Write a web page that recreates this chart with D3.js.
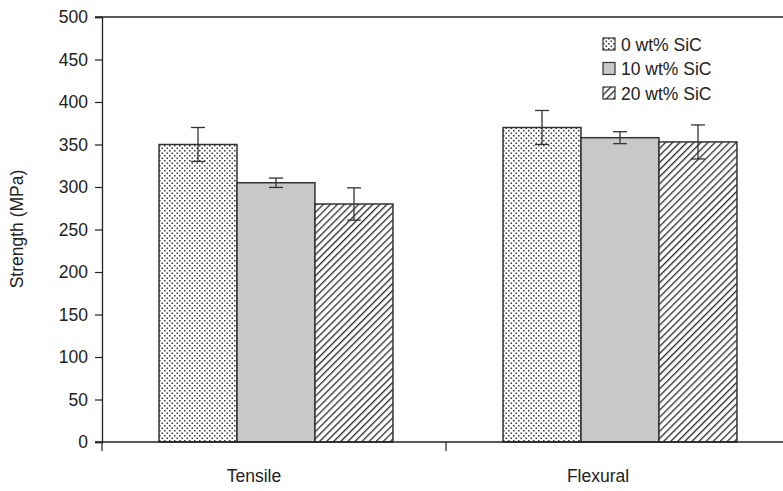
<!DOCTYPE html>
<html>
<head>
<meta charset="utf-8">
<script src="https://cdn.jsdelivr.net/npm/d3@7"></script>
<style>
  body { margin: 0; background: #fff; }
  text { font-family: "Liberation Sans", Arial, sans-serif; fill: #222; }
</style>
</head>
<body>
<div id="chart"></div>
<script>
// data
const categories = ["Tensile", "Flexural"];
const seriesNames = ["0 wt% SiC", "10 wt% SiC", "20 wt% SiC"];
const means  = [[350, 305, 280], [370, 358, 353]];
const errors = [[20, 5.5, 19], [20, 7, 20]];
const yTicks = [0, 50, 100, 150, 200, 250, 300, 350, 400, 450, 500];

const width = 783, height = 491;
const margin = {top: 17, right: -7, bottom: 49, left: 102};
const fontSize = "17.5px";

const svg = d3.select("#chart")
  .append("svg")
  .attr("width", width)
  .attr("height", height);

// patterns
const defs = svg.append("defs");
const dots = defs.append("pattern")
  .attr("id", "dots")
  .attr("patternUnits", "userSpaceOnUse")
  .attr("width", 5).attr("height", 5);
dots.append("rect").attr("width", 5).attr("height", 5).attr("fill", "#fff");
dots.append("rect").attr("x", 0).attr("y", 0).attr("width", 1.5).attr("height", 1.5).attr("fill", "#333");
dots.append("rect").attr("x", 2.5).attr("y", 2.5).attr("width", 1.5).attr("height", 1.5).attr("fill", "#333");

const hatch = defs.append("pattern")
  .attr("id", "hatch")
  .attr("patternUnits", "userSpaceOnUse")
  .attr("width", 5).attr("height", 5)
  .attr("patternTransform", "rotate(45)");
hatch.append("rect").attr("width", 5).attr("height", 5).attr("fill", "#fff");
hatch.append("line").attr("x1", 0).attr("y1", 0).attr("x2", 0).attr("y2", 5)
  .attr("stroke", "#2a2a2a").attr("stroke-width", 2.6);

const fills = ["url(#dots)", "#c8c8ca", "url(#hatch)"];

// scales
const x0 = d3.scaleBand()
  .domain(categories)
  .range([margin.left, width - margin.right])
  .paddingInner(0.32)
  .paddingOuter(0.16);

const x1 = d3.scaleBand()
  .domain(seriesNames)
  .range([0, x0.bandwidth()]);

const y = d3.scaleLinear()
  .domain([0, 500])
  .range([height - margin.bottom, margin.top]);

// top border
svg.append("line")
  .attr("x1", margin.left - 7).attr("x2", width)
  .attr("y1", y(500)).attr("y2", y(500))
  .attr("stroke", "#222").attr("stroke-width", 1.3);

// bars
const groups = svg.selectAll("g.cat")
  .data(categories)
  .enter().append("g")
  .attr("class", "cat")
  .attr("transform", (d) => `translate(${x0(d) + 2},0)`);

groups.each(function(cat, ci) {
  const g = d3.select(this);
  seriesNames.forEach((s, si) => {
    const v = means[ci][si], e = errors[ci][si];
    const bx = x1(s);
    g.append("rect")
      .attr("x", bx)
      .attr("y", y(v))
      .attr("width", x1.bandwidth())
      .attr("height", y(0) - y(v))
      .attr("fill", fills[si])
      .attr("stroke", "#333")
      .attr("stroke-width", 1.5);
    const cx = bx + x1.bandwidth() / 2;
    g.append("line")
      .attr("x1", cx).attr("x2", cx)
      .attr("y1", y(v + e)).attr("y2", y(v - e))
      .attr("stroke", "#333").attr("stroke-width", 1.3);
    [v + e, v - e].forEach((t) => {
      g.append("line")
        .attr("x1", cx - 7).attr("x2", cx + 7)
        .attr("y1", y(t)).attr("y2", y(t))
        .attr("stroke", "#333").attr("stroke-width", 1.3);
    });
  });
});

// y axis
const yAxis = svg.append("g")
  .attr("transform", `translate(${margin.left},0)`)
  .call(d3.axisLeft(y).tickValues(yTicks).tickSize(7).tickPadding(7));
yAxis.select(".domain").attr("stroke", "#222").attr("stroke-width", 1.3);
yAxis.selectAll(".tick line").attr("stroke", "#222").attr("stroke-width", 1.2);
yAxis.selectAll(".tick text").attr("font-size", fontSize).attr("fill", "#222")
  .attr("font-family", "Liberation Sans, Arial, sans-serif");

// x axis
svg.append("line")
  .attr("x1", margin.left - 7).attr("x2", width)
  .attr("y1", y(0)).attr("y2", y(0))
  .attr("stroke", "#222").attr("stroke-width", 1.3);
[margin.left, margin.left + (width - margin.right - margin.left) / 2].forEach((tx) => {
  svg.append("line")
    .attr("x1", tx).attr("x2", tx)
    .attr("y1", y(0)).attr("y2", y(0) + 9)
    .attr("stroke", "#222").attr("stroke-width", 1.2);
});
svg.selectAll("text.cat-label")
  .data(categories)
  .enter().append("text")
  .attr("class", "cat-label")
  .attr("x", (d) => x0(d) + x0.bandwidth() / 2 - 20)
  .attr("y", 482)
  .attr("text-anchor", "middle")
  .attr("font-size", fontSize)
  .text((d) => d);

// y label
svg.append("text")
  .attr("transform", "translate(23,229) rotate(-90)")
  .attr("text-anchor", "middle")
  .attr("font-size", fontSize)
  .text("Strength (MPa)");

// legend
const legend = svg.append("g").attr("transform", "translate(603,38)");
seriesNames.forEach((s, i) => {
  const row = legend.append("g").attr("transform", `translate(0,${i * 24.5})`);
  row.append("rect")
    .attr("width", 12).attr("height", 12)
    .attr("fill", fills[i])
    .attr("stroke", "#333").attr("stroke-width", 1.2);
  row.append("text")
    .attr("x", 18).attr("y", 12.5)
    .attr("font-size", fontSize)
    .text(s);
});
</script>
</body>
</html>
